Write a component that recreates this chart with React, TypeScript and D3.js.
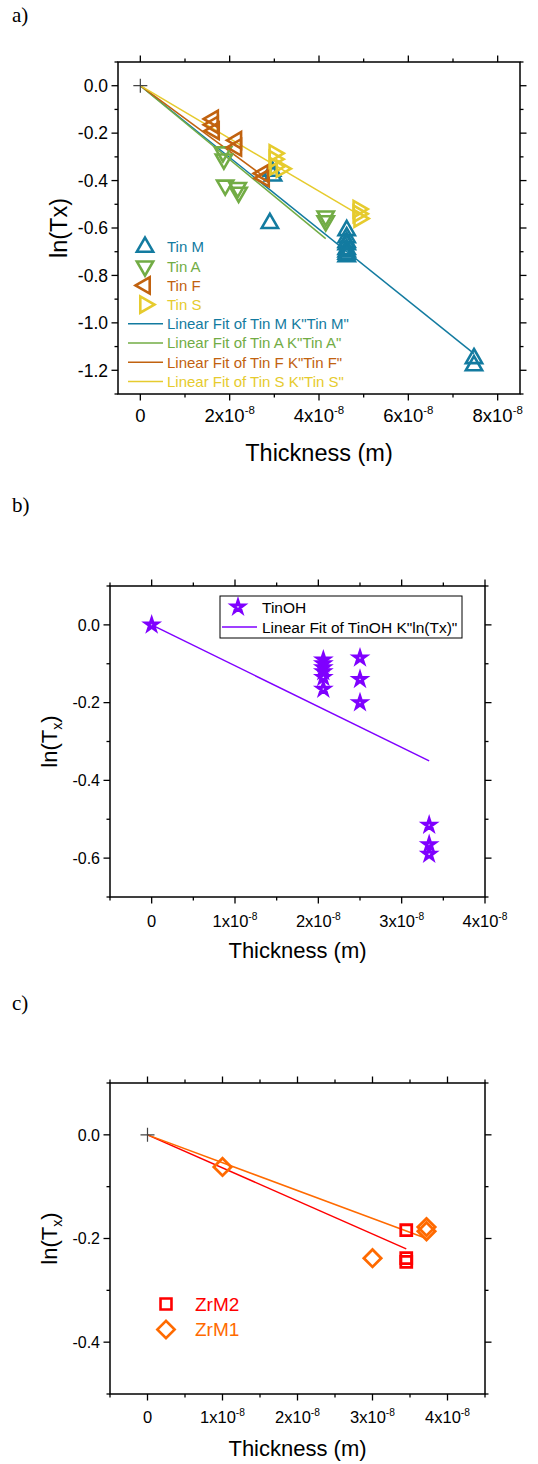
import React, { useRef, useEffect } from 'react'
import * as d3 from 'd3'

type Pt = [number, number]

// ---- a) Tin films: thickness (m) vs ln(Tx)
const tinM: Pt[] = [
  [2.95e-8, -0.36], [2.97e-8, -0.38], [2.9e-8, -0.58],
  [4.62e-8, -0.61], [4.62e-8, -0.64], [4.62e-8, -0.66], [4.62e-8, -0.67],
  [4.62e-8, -0.69], [4.62e-8, -0.7], [4.62e-8, -0.71], [4.62e-8, -0.72],
  [7.47e-8, -1.15], [7.47e-8, -1.18],
]
const tinA: Pt[] = [
  [1.85e-8, -0.28], [1.87e-8, -0.31], [1.9e-8, -0.42], [2.18e-8, -0.43],
  [2.2e-8, -0.45], [4.15e-8, -0.55], [4.15e-8, -0.57],
]
const tinF: Pt[] = [
  [1.63e-8, -0.14], [1.63e-8, -0.165], [1.65e-8, -0.19], [2.15e-8, -0.23],
  [2.15e-8, -0.26], [2.75e-8, -0.37], [2.77e-8, -0.39],
]
const tinS: Pt[] = [
  [3.0e-8, -0.285], [3.0e-8, -0.31], [3.02e-8, -0.34], [3.16e-8, -0.35],
  [4.88e-8, -0.52], [4.88e-8, -0.54], [4.9e-8, -0.56],
]
const fitTinM: Pt[] = [[0, 0], [7.47e-8, -1.13]]
const fitTinA: Pt[] = [[0, 0], [4.15e-8, -0.645]]
const fitTinF: Pt[] = [[0, 0], [2.78e-8, -0.385]]
const fitTinS: Pt[] = [[0, 0], [4.9e-8, -0.545]]
const aXTicks = [0, 2e-8, 4e-8, 6e-8, 8e-8]
const aYTicks = [0, -0.2, -0.4, -0.6, -0.8, -1.0, -1.2]

// ---- b) TinOH
const tinOH: Pt[] = [
  [0, 0],
  [2.06e-8, -0.09], [2.06e-8, -0.1], [2.06e-8, -0.11], [2.06e-8, -0.12],
  [2.06e-8, -0.135], [2.06e-8, -0.165],
  [2.5e-8, -0.085], [2.5e-8, -0.14], [2.5e-8, -0.2],
  [3.33e-8, -0.515], [3.33e-8, -0.565], [3.33e-8, -0.59],
]
const fitTinOH: Pt[] = [[0, 0], [3.33e-8, -0.35]]
const bXTicks = [0, 1e-8, 2e-8, 3e-8, 4e-8]
const bYTicks = [0, -0.2, -0.4, -0.6]

// ---- c) Zr films
const zrM2: Pt[] = [[3.45e-8, -0.184], [3.45e-8, -0.238], [3.45e-8, -0.245]]
const zrM1: Pt[] = [[1.0e-8, -0.062], [3.0e-8, -0.238], [3.72e-8, -0.178], [3.72e-8, -0.186]]
const fitZrM2: Pt[] = [[0, 0], [3.45e-8, -0.22]]
const fitZrM1: Pt[] = [[0, 0], [3.72e-8, -0.2]]
const cXTicks = [0, 1e-8, 2e-8, 3e-8, 4e-8]
const cYTicks = [0, -0.2, -0.4]

const FONT = '"Liberation Sans", Arial, Helvetica, sans-serif'

const C = {
  tinM: '#137ba0',
  tinA: '#72ac45',
  tinF: '#c1620f',
  tinS: '#e6cb2e',
  tinOH: '#7f00ff',
  zrM2: '#ff0000',
  zrM1: '#ff6a00',
}

function markerPath(kind: string) {
  if (kind === 'up' || kind === 'down' || kind === 'left' || kind === 'right')
    return d3.symbol(d3.symbolTriangle, 115)()
  if (kind === 'star') return d3.symbol(d3.symbolStar, 42)()
  if (kind === 'square') return d3.symbol(d3.symbolSquare, 120)()
  if (kind === 'diamond') return d3.symbol(d3.symbolSquare, 150)()
  return 'M-7,0H7M0,-7V7'
}
const rot: Record<string, number> = { up: 0, down: 180, left: -90, right: 90, diamond: 45 }

function drawPanel(svg: any, o: any) {
  const { box } = o
  const x = d3.scaleLinear().domain(o.xDomain).range([box.l, box.r])
  const y = d3.scaleLinear().domain(o.yDomain).range([box.b, box.t])
  const g = svg.append('g')

  // panel letter
  g.append('text').attr('x', 12).attr('y', o.letterY)
    .attr('font-family', '"Liberation Serif", "Times New Roman", serif')
    .attr('font-size', 21).text(o.letter)

  // frame
  g.append('rect').attr('x', box.l).attr('y', box.t)
    .attr('width', box.r - box.l).attr('height', box.b - box.t)
    .attr('fill', 'none').attr('stroke', '#000').attr('stroke-width', 1.5)

  const major = 6.5, minor = 3.5
  const tick = (x1: number, y1: number, x2: number, y2: number) =>
    g.append('line').attr('x1', x1).attr('y1', y1).attr('x2', x2).attr('y2', y2)
      .attr('stroke', '#000').attr('stroke-width', 1.3)

  d3.range(Math.ceil(o.xDomain[0] / o.xMinorStep - 1e-6), Math.floor(o.xDomain[1] / o.xMinorStep + 1e-6) + 1)
    .map(k => k * o.xMinorStep)
    .forEach(v => {
      const isMajor = o.xTicks.some((t: number) => Math.abs(t - v) < 1e-12)
      const len = isMajor ? major : minor
      tick(x(v), box.b, x(v), box.b + len)
      tick(x(v), box.t, x(v), box.t - len)
    })
  d3.range(Math.ceil(o.yDomain[0] / o.yMinorStep - 1e-6), Math.floor(o.yDomain[1] / o.yMinorStep + 1e-6) + 1)
    .map(k => k * o.yMinorStep)
    .forEach(v => {
      const isMajor = o.yTicks.some((t: number) => Math.abs(t - v) < 1e-9)
      const len = isMajor ? major : minor
      tick(box.l, y(v), box.l - len, y(v))
      tick(box.r, y(v), box.r + len, y(v))
    })

  // tick labels
  o.xTicks.forEach((v: number) => {
    const t = g.append('text').attr('x', x(v)).attr('y', o.xLabelY)
      .attr('text-anchor', 'middle').attr('font-family', FONT).attr('font-size', o.xTickFont)
    if (Math.abs(v) < 1e-15) t.text('0')
    else {
      t.append('tspan').text(`${Math.round(v / 1e-8)}x10`)
      t.append('tspan').attr('dy', -o.xTickFont * 0.45).attr('font-size', o.xTickFont * 0.62).text('-8')
    }
  })
  o.yTicks.forEach((v: number) => {
    g.append('text').attr('x', box.l - 10).attr('y', y(v)).attr('dy', '0.36em')
      .attr('text-anchor', 'end').attr('font-family', FONT).attr('font-size', o.yTickFont)
      .text(v === 0 ? '0.0' : d3.format('.1f')(v).replace('−', '-'))
  })

  // axis titles
  g.append('text').attr('x', (box.l + box.r) / 2).attr('y', o.xTitleY)
    .attr('text-anchor', 'middle').attr('font-family', FONT).attr('font-size', o.titleFont)
    .text('Thickness (m)')
  const yt = g.append('text')
    .attr('transform', `translate(${o.yTitleX},${(box.t + box.b) / 2}) rotate(-90)`)
    .attr('text-anchor', 'middle').attr('font-family', FONT).attr('font-size', o.titleFont)
  if (o.subscript) {
    yt.append('tspan').text('ln(T')
    yt.append('tspan').attr('dy', 5).attr('font-size', o.titleFont * 0.65).text('x')
    yt.append('tspan').attr('dy', -5).text(')')
  } else yt.text('ln(Tx)')

  // fit lines
  const line = d3.line<Pt>().x(d => x(d[0])).y(d => y(d[1]))
  o.fits.forEach((f: any) => {
    g.append('path').attr('d', line(f.pts)).attr('fill', 'none')
      .attr('stroke', f.color).attr('stroke-width', 1.5)
  })

  // origin cross
  if (o.origin) {
    g.append('path').attr('d', markerPath('plus'))
      .attr('transform', `translate(${x(0)},${y(0)})`)
      .attr('stroke', '#444').attr('stroke-width', 1.2).attr('fill', 'none')
  }

  // scatter series
  o.series.forEach((s: any) => {
    g.append('g').selectAll('path').data(s.pts).enter().append('path')
      .attr('d', markerPath(s.symbol))
      .attr('transform', (d: Pt) => `translate(${x(d[0])},${y(d[1])}) rotate(${rot[s.symbol] || 0})`)
      .attr('fill', 'none').attr('stroke', s.color).attr('stroke-width', s.sw || 2.6)
  })

  // legend
  const L = o.legend
  if (L.box) {
    g.append('rect').attr('x', L.box[0]).attr('y', L.box[1])
      .attr('width', L.box[2]).attr('height', L.box[3])
      .attr('fill', '#fff').attr('stroke', '#000').attr('stroke-width', 1)
  }
  L.items.forEach((it: any, i: number) => {
    const cy = L.y + i * L.dy
    if (it.symbol) {
      g.append('path').attr('d', markerPath(it.symbol))
        .attr('transform', `translate(${L.symX},${cy}) rotate(${rot[it.symbol] || 0})`)
        .attr('fill', 'none').attr('stroke', it.color).attr('stroke-width', it.symbol === 'star' ? 3 : 2.6)
    } else {
      g.append('line').attr('x1', L.lineX[0]).attr('x2', L.lineX[1])
        .attr('y1', cy).attr('y2', cy).attr('stroke', it.color).attr('stroke-width', 1.5)
    }
    g.append('text').attr('x', L.textX).attr('y', cy).attr('dy', '0.36em')
      .attr('font-family', FONT).attr('font-size', L.font)
      .attr('fill', L.textColor || it.color).text(it.name)
  })
}

export default function App() {
  const svgRef = useRef<SVGSVGElement>(null)

  useEffect(() => {
    if (!svgRef.current) return
    const svg = d3.select(svgRef.current)
    svg.selectAll('*').remove()

    drawPanel(svg, {
      letter: 'a)', letterY: 22,
      box: { l: 118, r: 520, t: 62, b: 394 },
      xDomain: [-0.5e-8, 8.5e-8], yDomain: [-1.3, 0.1],
      xTicks: aXTicks, yTicks: aYTicks, xMinorStep: 1e-8, yMinorStep: 0.1,
      xTickFont: 18.5, yTickFont: 17.5, titleFont: 23.5, xLabelY: 422, xTitleY: 461, yTitleX: 67,
      subscript: false, origin: true,
      fits: [
        { color: C.tinM, pts: fitTinM }, { color: C.tinA, pts: fitTinA },
        { color: C.tinF, pts: fitTinF }, { color: C.tinS, pts: fitTinS },
      ],
      series: [
        { color: C.tinM, symbol: 'up', pts: tinM },
        { color: C.tinA, symbol: 'down', pts: tinA },
        { color: C.tinF, symbol: 'left', pts: tinF },
        { color: C.tinS, symbol: 'right', pts: tinS },
      ],
      legend: {
        y: 247, dy: 19.2, symX: 145, textX: 167, lineX: [128, 163], font: 15,
        items: [
          { name: 'Tin M', color: C.tinM, symbol: 'up' },
          { name: 'Tin A', color: C.tinA, symbol: 'down' },
          { name: 'Tin F', color: C.tinF, symbol: 'left' },
          { name: 'Tin S', color: C.tinS, symbol: 'right' },
          { name: 'Linear Fit of Tin M K"Tin M"', color: C.tinM },
          { name: 'Linear Fit of Tin A K"Tin A"', color: C.tinA },
          { name: 'Linear Fit of Tin F K"Tin F"', color: C.tinF },
          { name: 'Linear Fit of Tin S K"Tin S"', color: C.tinS },
        ],
      },
    })

    drawPanel(svg, {
      letter: 'b)', letterY: 512,
      box: { l: 110, r: 485, t: 586, b: 897 },
      xDomain: [-0.5e-8, 4e-8], yDomain: [-0.7, 0.1],
      xTicks: bXTicks, yTicks: bYTicks, xMinorStep: 0.5e-8, yMinorStep: 0.1,
      xTickFont: 16.5, yTickFont: 16, titleFont: 22, xLabelY: 927, xTitleY: 958, yTitleX: 57,
      subscript: true, origin: false,
      fits: [{ color: C.tinOH, pts: fitTinOH }],
      series: [{ color: C.tinOH, symbol: 'star', pts: tinOH, sw: 3 }],
      legend: {
        box: [220, 596, 242, 42],
        y: 607, dy: 20, symX: 238, textX: 262, lineX: [222, 257], font: 15.5, textColor: '#000',
        items: [
          { name: 'TinOH', color: C.tinOH, symbol: 'star' },
          { name: 'Linear Fit of TinOH K"ln(Tx)"', color: C.tinOH },
        ],
      },
    })

    drawPanel(svg, {
      letter: 'c)', letterY: 1010,
      box: { l: 110, r: 485, t: 1083, b: 1394 },
      xDomain: [-0.5e-8, 4.5e-8], yDomain: [-0.5, 0.1],
      xTicks: cXTicks, yTicks: cYTicks, xMinorStep: 0.5e-8, yMinorStep: 0.1,
      xTickFont: 16.5, yTickFont: 16, titleFont: 22, xLabelY: 1423, xTitleY: 1456, yTitleX: 57,
      subscript: true, origin: true,
      fits: [{ color: C.zrM2, pts: fitZrM2 }, { color: C.zrM1, pts: fitZrM1 }],
      series: [
        { color: C.zrM2, symbol: 'square', pts: zrM2, sw: 2.8 },
        { color: C.zrM1, symbol: 'diamond', pts: zrM1, sw: 2.8 },
      ],
      legend: {
        y: 1304, dy: 25.5, symX: 166, textX: 195, lineX: [0, 0], font: 19,
        items: [
          { name: 'ZrM2', color: C.zrM2, symbol: 'square' },
          { name: 'ZrM1', color: C.zrM1, symbol: 'diamond' },
        ],
      },
    })
  }, [])

  return (
    <svg
      ref={svgRef}
      width={538}
      height={1464}
      style={{ position: 'absolute', left: 0, top: 0, background: '#fff' }}
    />
  )
}
